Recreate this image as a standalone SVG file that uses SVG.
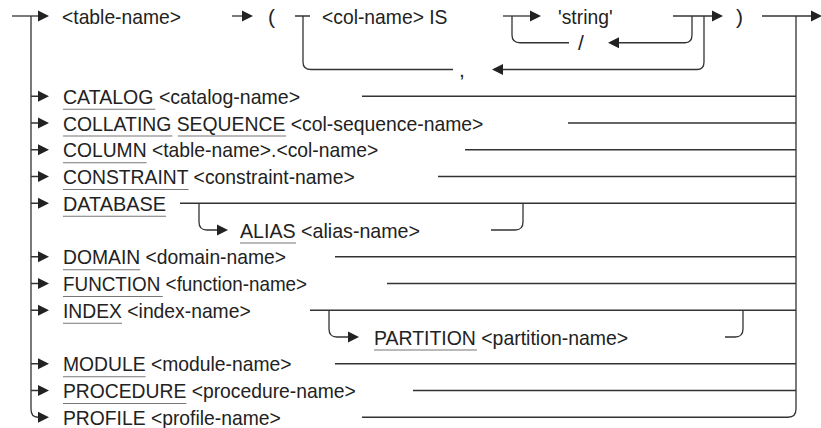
<svg xmlns="http://www.w3.org/2000/svg" width="821" height="428" viewBox="0 0 821 428">
<style>
text{font-family:"Liberation Sans",Arial,sans-serif;font-size:21px;fill:#222}
.c path{fill:none;stroke:#333;stroke-width:1.3}
.u{stroke:#777;stroke-width:1.2}
</style>
<defs>
<path id="ar" d="M0,-5.5 L11,0 L0,5.5 Z" fill="#222"/>
<path id="al" d="M0,-5.5 L-11,0 L0,5.5 Z" fill="#222"/>
</defs>
<rect width="821" height="428" fill="#fff"/>
<g id="connectors" class="c">
<path d="M12,16 H38"/>
<path d="M31,16 V409 Q31,417.25 38,417.25"/>
<path d="M31,96.25 H38 M31,123 H38 M31,149.75 H38 M31,176.5 H38 M31,203.25 H38 M31,256.75 H38 M31,283.5 H38 M31,310.25 H38 M31,363.75 H38 M31,390.5 H38"/>
<path d="M232,16 H242"/>
<path d="M295,16 H310 M303,16 V62 Q303,69.5 311,69.5 H453"/>
<path d="M503,69.5 H697 Q704,69.5 704,62 V16"/>
<path d="M503,16 H530"/>
<path d="M512,16 V35 Q512,42.75 520,42.75 H569"/>
<path d="M619,42.75 H685 Q692,42.75 692,35 V16"/>
<path d="M673,16 H712"/>
<path d="M762,16 H811"/>
<path d="M796,16 V409 Q796,417.25 788,417.25 H362"/>
<path d="M362,96.25 H796 M568,123 H796 M465,149.75 H796 M438,176.5 H796 M180,203.25 H796 M335,256.75 H796 M387,283.5 H796 M310,310.25 H796 M335,363.75 H796 M413,390.5 H796"/>
<path d="M199,203.25 V222 Q199,230 207,230 H217"/>
<path d="M491,230 H515 Q523,230 523,222 V203.25"/>
<path d="M329,310.25 V329 Q329,337 337,337 H348"/>
<path d="M725,337 H735 Q743,337 743,329 V310.25"/>
<use href="#ar" x="38" y="16"/>
<use href="#ar" x="242" y="16"/>
<use href="#ar" x="530" y="16"/>
<use href="#ar" x="712" y="16"/>
<use href="#ar" x="811" y="16"/>
<use href="#al" x="503" y="69.5"/>
<use href="#al" x="619" y="42.75"/>
<use href="#ar" x="38" y="96.25"/>
<use href="#ar" x="38" y="123"/>
<use href="#ar" x="38" y="149.75"/>
<use href="#ar" x="38" y="176.5"/>
<use href="#ar" x="38" y="203.25"/>
<use href="#ar" x="217" y="230"/>
<use href="#ar" x="38" y="256.75"/>
<use href="#ar" x="38" y="283.5"/>
<use href="#ar" x="38" y="310.25"/>
<use href="#ar" x="348" y="337"/>
<use href="#ar" x="38" y="363.75"/>
<use href="#ar" x="38" y="390.5"/>
<use href="#ar" x="38" y="417.25"/>
</g>
<g id="n-table-name"><text x="62" y="23.5" textLength="119.1" lengthAdjust="spacingAndGlyphs">&lt;table-name&gt;</text></g>
<g id="n-lparen"><text x="268" y="23.5">(</text></g>
<g id="n-col-name-is"><text x="322" y="23.5" textLength="125.5" lengthAdjust="spacingAndGlyphs">&lt;col-name&gt; IS</text></g>
<g id="n-string"><text x="558" y="23.5" textLength="54.6" lengthAdjust="spacingAndGlyphs">'string'</text></g>
<g id="n-slash"><text x="578" y="50.25">/</text></g>
<g id="n-comma"><text x="459" y="77">,</text></g>
<g id="n-rparen"><text x="736" y="23.5">)</text></g>
<g id="n-catalog"><text x="63" y="103.75" textLength="237.1" lengthAdjust="spacingAndGlyphs">CATALOG &lt;catalog-name&gt;</text><path class="u" d="M63,109.25 H155.2"/></g>
<g id="n-collating"><text x="63" y="130.5" textLength="420.4" lengthAdjust="spacingAndGlyphs">COLLATING SEQUENCE &lt;col-sequence-name&gt;</text><path class="u" d="M63,136 H172.4 M177.8,136 H286.1"/></g>
<g id="n-column"><text x="63" y="157.25" textLength="315.3" lengthAdjust="spacingAndGlyphs">COLUMN &lt;table-name&gt;.&lt;col-name&gt;</text><path class="u" d="M63,162.75 H146.6"/></g>
<g id="n-constraint"><text x="63" y="184" textLength="291.7" lengthAdjust="spacingAndGlyphs">CONSTRAINT &lt;constraint-name&gt;</text><path class="u" d="M63,189.5 H188.5"/></g>
<g id="n-database"><text x="63" y="210.75" textLength="103" lengthAdjust="spacingAndGlyphs">DATABASE</text><path class="u" d="M63,216.25 H166"/></g>
<g id="n-alias"><text x="240" y="237.5" textLength="180" lengthAdjust="spacingAndGlyphs">ALIAS &lt;alias-name&gt;</text><path class="u" d="M240,243 H296"/></g>
<g id="n-domain"><text x="63" y="264.25" textLength="223.1" lengthAdjust="spacingAndGlyphs">DOMAIN &lt;domain-name&gt;</text><path class="u" d="M63,269.75 H140.2"/></g>
<g id="n-function"><text x="63" y="291" textLength="244.1" lengthAdjust="spacingAndGlyphs">FUNCTION &lt;function-name&gt;</text><path class="u" d="M63,296.5 H162.7"/></g>
<g id="n-index"><text x="63" y="317.75" textLength="187.7" lengthAdjust="spacingAndGlyphs">INDEX &lt;index-name&gt;</text><path class="u" d="M63,323.25 H122"/></g>
<g id="n-partition"><text x="374" y="344.5" textLength="254.2" lengthAdjust="spacingAndGlyphs">PARTITION &lt;partition-name&gt;</text><path class="u" d="M374,350 H477"/></g>
<g id="n-module"><text x="63" y="371.25" textLength="228.5" lengthAdjust="spacingAndGlyphs">MODULE &lt;module-name&gt;</text><path class="u" d="M63,376.75 H145.6"/></g>
<g id="n-procedure"><text x="63" y="398" textLength="292.8" lengthAdjust="spacingAndGlyphs">PROCEDURE &lt;procedure-name&gt;</text><path class="u" d="M63,403.5 H186.3"/></g>
<g id="n-profile"><text x="63" y="424.75" textLength="217.7" lengthAdjust="spacingAndGlyphs">PROFILE &lt;profile-name&gt;</text></g>
</svg>
